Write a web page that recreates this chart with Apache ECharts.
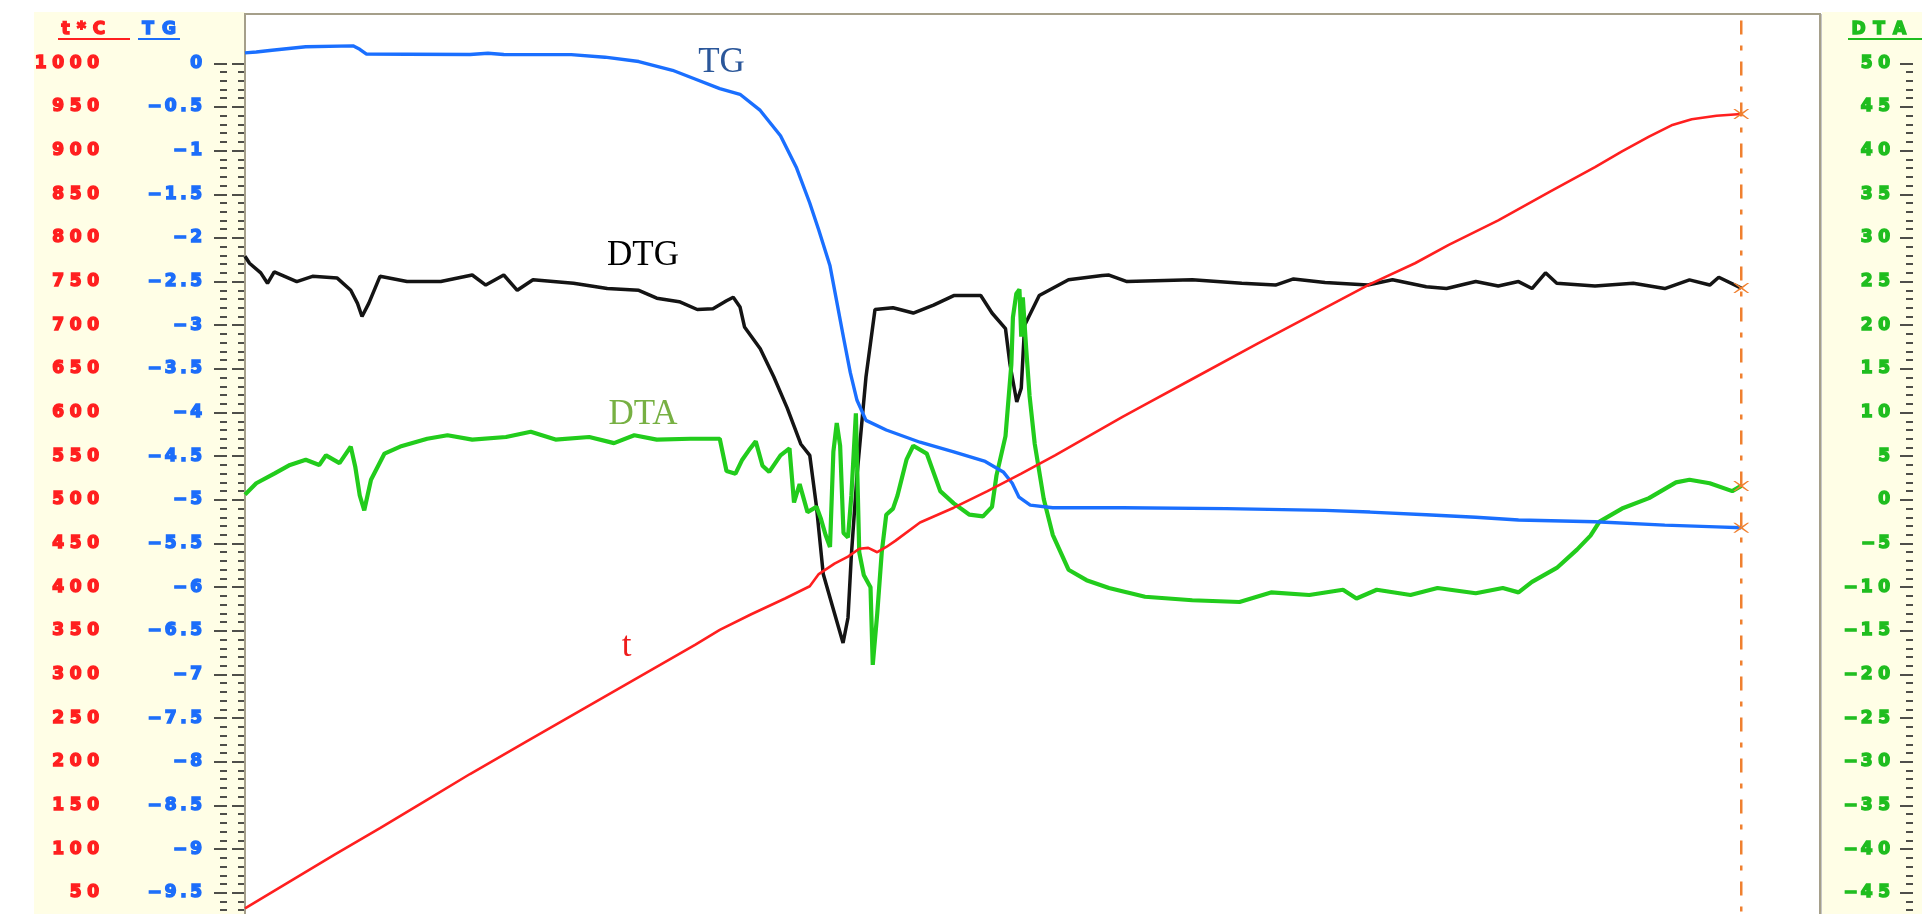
<!DOCTYPE html>
<html>
<head>
<meta charset="utf-8">
<script src="https://cdn.jsdelivr.net/npm/echarts@6/dist/echarts.min.js"></script>
<style>
  html, body { margin: 0; padding: 0; background: #ffffff; }
  #chart { width: 1922px; height: 914px; }
</style>
</head>
<body>
<div id="chart"></div>
<script>
// Thermal analysis run: furnace temperature (t), mass (TG), its derivative (DTG)
// and differential temperature (DTA) against time. Points are [time, value].

// t, °C
const tPoints = [
  [0,32],[20,63],[40,94],[60,124],[80,155],[100,186],[125,223],[150,260],[175,297],
  [200,334],[211,351],[225,369],[240,387],[251,401],[255,415],[262,427],[268,435],
  [273,444],[277,445],[281,440],[285,446],[289,453],[300,474],[315,491],[330,510],
  [345,530],[360,551],[375,573],[390,595],[400,609],[420,637],[450,679],[475,713],
  [500,747],[520,771],[535,792],[557,820],[580,853],[600,881],[612,899],[624,916],
  [634,929],[643,936],[654,940],[665,942]
];

// TG, mass change
const tgPoints = [
  [0,0.12],[5,0.13],[12,0.15],[27,0.19],[48,0.2],[51,0.16],[54,0.105],[72,0.103],
  [100,0.1],[108,0.115],[115,0.1],[145,0.099],[160,0.07],[175,0.02],[190,-0.08],
  [200,-0.18],[211,-0.29],[220,-0.355],[229,-0.54],[238,-0.83],[245,-1.19],[251,-1.6],
  [255,-1.91],[260,-2.32],[263,-2.73],[266,-3.14],[269,-3.54],[272,-3.86],[276,-4.09],
  [285,-4.2],[300,-4.34],[315,-4.45],[329,-4.56],[337,-4.68],[341,-4.81],[344,-4.97],
  [349,-5.06],[359,-5.09],[390,-5.09],[436,-5.1],[480,-5.12],[500,-5.14],[525,-5.17],
  [547,-5.2],[566,-5.23],[600,-5.25],[631,-5.29],[654,-5.31],[665,-5.32]
];

// DTG, rate of mass change (own unlabelled scale)
const dtgPoints = [
  [0,6.9],[2,6.1],[7,5.0],[10,3.8],[13,5.1],[23,4.0],[30,4.6],[41,4.4],[47,3.0],[50,1.5],
  [52,0.0],[55,1.5],[60,4.6],[72,4.0],[87,4.0],[101,4.75],[107,3.6],[115,4.75],[121,3.0],
  [128,4.2],[146,3.8],[161,3.2],[175,3.0],[183,2.1],[193,1.7],[201,0.8],[208,0.9],[214,1.8],
  [217,2.2],[220,1.1],[222,-1.2],[229,-3.7],[235,-6.9],[241,-10.5],[247,-14.6],[251,-15.9],
  [254,-21.8],[257,-29.5],[261,-33.1],[265.8,-37.4],[268,-34.5],[269.5,-27.3],[272,-18.2],
  [276,-6.9],[280,0.8],[288,1.0],[297,0.4],[306,1.3],[315,2.4],[327,2.4],[332,0.4],
  [338,-1.4],[340,-5.5],[343,-9.8],[345,-8.2],[346.5,-1.0],[353,2.4],[366,4.2],[381,4.7],
  [384,4.75],[392,4.0],[421,4.2],[443,3.8],[458,3.6],[466,4.3],[480,3.9],[499,3.6],
  [510,4.2],[525,3.4],[534,3.2],[547,4.0],[557,3.5],[566,4.0],[572,3.2],[578,5.0],
  [583,3.8],[600,3.5],[617,3.8],[631,3.2],[642,4.2],[651,3.6],[655,4.5],[665,3.25]
];

// DTA
const dtaPoints = [
  [0,0.6],[5,1.9],[13,3.0],[20,4.0],[27,4.6],[33,4.0],[36,5.1],[42,4.2],[47,6.1],[49,3.8],
  [51,0.5],[53,-1.2],[56,2.3],[62,5.3],[69,6.1],[81,7.0],[90,7.4],[101,6.9],[116,7.2],
  [127,7.8],[138,6.9],[153,7.2],[164,6.5],[173,7.4],[183,6.9],[198,7.0],[211,7.0],[214,3.3],
  [218,3.0],[221,4.6],[224,5.7],[227,6.7],[230,3.9],[233,3.2],[238,5.1],[242,5.9],[244,-0.3],
  [246.5,1.8],[250,-1.4],[254,-0.8],[256,-2.2],[258,-4.0],[260,-5.4],[261.5,5.5],[263,8.8],
  [264.5,6.2],[266,-3.8],[268,-4.3],[269.5,0.5],[271.5,9.9],[273,-6.0],[275,-8.6],[278,-10.0],
  [279,-18.9],[281,-13.0],[283,-6.0],[285,-1.7],[288,-1.0],[290,0.5],[294,4.6],[297,6.2],
  [303,5.3],[309,1.0],[315,-0.4],[322,-1.7],[328,-1.9],[332,-0.8],[334,2.8],[338,7.3],
  [340.6,15.5],[341.3,20.9],[342.8,23.6],[344.2,24.1],[345,18.7],[345.7,23.2],[347.2,17.3],
  [348.7,11.9],[351,6.4],[355,0.1],[359,-4.0],[366,-8.0],[374,-9.2],[384,-10.1],[400,-11.1],
  [421,-11.5],[442,-11.7],[456,-10.6],[473,-10.9],[488,-10.3],[494,-11.3],[503,-10.3],
  [518,-10.9],[530,-10.1],[547,-10.7],[559,-10.1],[566,-10.6],[572,-9.4],[583,-7.8],
  [592,-5.7],[598,-4.1],[602,-2.5],[612,-1.0],[624,0.2],[636,2.0],[642,2.3],[651,1.9],
  [661,1.0],[665,1.6]
];

// Axis ranges and tick steps
const timeAxis = { min: 0, max: 700, step: 100 };
const tAxis    = { min: 0, max: 1000, step: 50 };
const tgAxis   = { min: -10, max: 0, step: 0.5 };
const dtaAxis  = { min: -50, max: 50, step: 5 };
const dtgAxis  = { min: -71, max: 29 };
const frameRows = 19;
// Cursor at the end of the run: [time, frame row] end points
const cursorPoints = [[665, 0], [665, 19]];

const RED = '#ff1f1f', BLUE = '#1c6dfa', GREEN = '#1fbd1f', ORANGE = '#f0802f';
const TICK = '#222222';
const LABEL_FONT = 'DejaVu Sans';

// Wide bitmap-style tick labels: each glyph gets its own fixed-width cell
function cellText(v) {
  return String(v).split('').map(function (c) {
    if (c === '-') return '{m|\u2212}';
    if (c === '.') return '{p|.}';
    return '{d|' + c + '}';
  }).join('');
}
function glyphStyle(color, width) {
  return { color: color, fontFamily: LABEL_FONT, fontWeight: 'bold', fontSize: 17, lineHeight: 18,
           align: 'center', textBorderColor: color, textBorderWidth: 1.5, width: width };
}
function cellRich(color) {
  return { d: glyphStyle(color, 17.5), p: glyphStyle(color, 8), m: glyphStyle(color, 15) };
}

function scaleAxis(cfg, color, extra) {
  return Object.assign({
    type: 'value',
    gridIndex: 1,
    min: cfg.min, max: cfg.max, interval: cfg.step,
    axisLine: { show: false },
    axisTick: { show: true, length: 13, lineStyle: { color: TICK, width: 1.6 } },
    minorTick: { show: true, splitNumber: 5, length: 7, lineStyle: { color: TICK, width: 1.6 } },
    splitLine: { show: false },
    axisLabel: { margin: 22, fontSize: 17, formatter: cellText, rich: cellRich(color) }
  }, extra);
}

const CROSS = 'path://M0,0L2,0L8,4L14,0L16,0L9.5,5L16,10L14,10L8,6L2,10L0,10L6.5,5Z';
function withEndMark(points) {
  return points.map(function (p, i) {
    if (i !== points.length - 1) return p;
    return { value: p, symbol: CROSS, symbolSize: [16, 10], itemStyle: { color: ORANGE } };
  });
}

function curve(name, points, yIdx, color, width, z) {
  return {
    name: name, type: 'line', xAxisIndex: 1, yAxisIndex: yIdx,
    data: withEndMark(points), symbol: 'none', showSymbol: true, clip: false,
    lineStyle: { color: color, width: width }, itemStyle: { color: color },
    silent: true, animation: false, z: z
  };
}

// Axis titles above the scales, one fixed-width cell per glyph
function axisTitle(x, chars, widths, color) {
  const rich = {};
  let text = '';
  chars.forEach(function (c, i) {
    rich['c' + i] = glyphStyle(color, widths[i]);
    text += '{c' + i + '|' + c + '}';
  });
  return { text: text, left: x, top: 21, padding: 0, itemGap: 0,
           textStyle: { fontSize: 17, lineHeight: 18, rich: rich } };
}
function underline(x1, x2, color) {
  return { type: 'line', z: 20, shape: { x1: x1, y1: 39, x2: x2, y2: 39 }, style: { stroke: color, lineWidth: 2 } };
}
function curveName(text, x, y, color) {
  return { type: 'text', z: 20, style: { text: text, x: x, y: y, fill: color, font: '35px "Liberation Serif"', align: 'center', verticalAlign: 'middle' } };
}

const option = {
  backgroundColor: '#ffffff',
  animation: false,
  title: [
    axisTitle(58, ['t', '*', 'C'], [15, 17, 18], RED),
    axisTitle(138, ['T', 'G'], [20, 22], BLUE),
    axisTitle(1848, ['D', 'T', 'A'], [21, 20, 21], GREEN)
  ],
  grid: [
    // plot frame with its own ruling
    { left: 245, right: 102, top: 14, bottom: -22.4, show: true, backgroundColor: '#ffffff',
      borderColor: '#a59f8a', borderWidth: 2, z: 1, containLabel: false, outerBoundsMode: 'none' },
    // data area
    { left: 245, right: 102, top: 63.3, bottom: -22.4, show: false, containLabel: false, outerBoundsMode: 'none' }
  ],
  xAxis: [
    { type: 'value', gridIndex: 0, min: timeAxis.min, max: timeAxis.max, interval: timeAxis.step,
      axisLine: { show: false }, axisTick: { show: false }, axisLabel: { show: false },
      splitLine: { show: true, lineStyle: { color: '#b3b3b3', width: 2.5 } } },
    { type: 'value', gridIndex: 1, min: timeAxis.min, max: timeAxis.max, interval: timeAxis.step, show: false }
  ],
  yAxis: [
    { type: 'value', gridIndex: 0, min: 0, max: frameRows, interval: 1,
      axisLine: { show: false }, axisTick: { show: false }, axisLabel: { show: false },
      splitLine: { show: true, lineStyle: { color: '#bcbcbc', width: 2 } } },
    scaleAxis(tAxis, RED, { position: 'left', offset: 121 }),
    scaleAxis(tgAxis, BLUE, { position: 'left', offset: 18 }),
    scaleAxis(dtaAxis, GREEN, { position: 'right', offset: 93,
      axisTick: { show: true, inside: true, length: 13, lineStyle: { color: TICK, width: 1.6 } },
      axisLabel: { inside: true, margin: 20, fontSize: 17, formatter: cellText, rich: cellRich(GREEN) } }),
    { type: 'value', gridIndex: 1, min: dtgAxis.min, max: dtgAxis.max, show: false }
  ],
  series: [
    {
      name: 'cursor', type: 'line', xAxisIndex: 0, yAxisIndex: 0, data: cursorPoints,
      symbol: 'none', silent: true, animation: false, z: 2,
      lineStyle: { color: ORANGE, width: 2.5, type: [14, 11, 5, 11] }
    },
    curve('DTG', dtgPoints, 4, '#141414', 3.5, 3),
    curve('DTA', dtaPoints, 3, '#22cc1c', 4.2, 4),
    curve('TG', tgPoints, 2, '#1a6fff', 3.4, 5),
    curve('t', tPoints, 1, RED, 2.6, 6)
  ],
  graphic: [
    { type: 'rect', z: -10, shape: { x: 34, y: 12, width: 211, height: 902 }, style: { fill: '#fffee6' } },
    { type: 'rect', z: -10, shape: { x: 1822, y: 12, width: 100, height: 902 }, style: { fill: '#fffee6' } },
    underline(58, 130, RED),
    underline(138, 180, BLUE),
    underline(1848, 1922, GREEN),
    curveName('TG', 721.5, 63, '#2b579a'),
    curveName('DTG', 643, 256, '#000000'),
    curveName('DTA', 643, 415, '#77b043'),
    curveName('t', 626.5, 647, '#ee1c1c')
  ]
};

const chart = echarts.init(document.getElementById('chart'), null, { renderer: 'canvas' });
chart.setOption(option);
</script>
</body>
</html>
